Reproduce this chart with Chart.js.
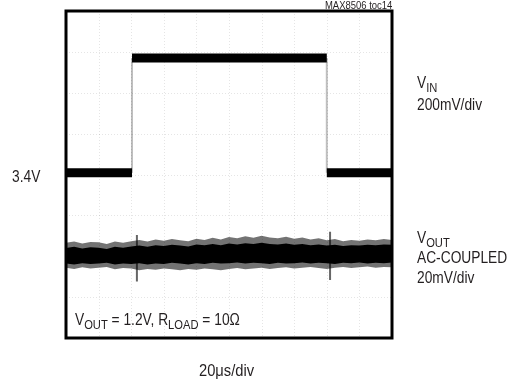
<!DOCTYPE html>
<html><head><meta charset="utf-8">
<script src="https://cdn.jsdelivr.net/npm/chart.js@4"></script>
<style>
html,body{margin:0;padding:0;background:#fff;}
#wrap{position:relative;width:509px;height:385px;overflow:hidden;font-family:"Liberation Sans",Arial,sans-serif;color:#231f20;}
canvas{position:absolute;left:0;top:0;}
.t{position:absolute;font-size:16px;line-height:16px;white-space:nowrap;transform:scaleX(0.86);transform-origin:0 0;}
.t sub{font-size:13px;vertical-align:-4px;line-height:0;}
</style></head>
<body>
<div id="wrap">
<canvas id="c" width="509" height="385"></canvas>
<div class="t" style="right:117px;top:0px;font-size:11px;line-height:10px;transform-origin:100% 0">MAX8506 toc14</div>
<div class="t" style="left:417px;top:74.5px">V<sub>IN</sub></div>
<div class="t" style="left:417px;top:96.5px">200mV/div</div>
<div class="t" style="left:12px;top:168.5px">3.4V</div>
<div class="t" style="left:417px;top:229.5px">V<sub>OUT</sub></div>
<div class="t" style="left:417px;top:249.5px">AC-COUPLED</div>
<div class="t" style="left:417px;top:269.5px">20mV/div</div>
<div class="t" style="left:75px;top:311.5px">V<sub>OUT</sub> = 1.2V, R<sub>LOAD</sub> = 10Ω</div>
<div class="t" style="left:199px;top:362.5px;transform:scaleX(0.92)">20μs/div</div>
</div>
<script>
// Time axis in microseconds (20 µs/div, 10 divisions); vertical axis in screen divisions (8 divisions)
const xTicksUs = [0,20,40,60,80,100,120,140,160,180,200];
const yTicksDiv = [0,1,2,3,4,5,6,7,8];

// VIN step (200 mV/div): low level = 3.4 V
const vinTimes  = [0, 40.5, 40.5, 160, 160, 200];
const vinLevels = [4.04, 4.04, 6.85, 6.85, 4.04, 4.04];

// VOUT AC-coupled noise envelope (20 mV/div)
const noiseTimes = [0,5,10,15,20,25,30,35,40,45,50,55,60,65,70,75,80,85,90,95,100,105,110,115,120,125,130,135,140,145,150,155,160,165,170,175,180,185,190,195,200];
const outerTop = [2.33,2.36,2.31,2.35,2.34,2.30,2.36,2.33,2.37,2.40,2.36,2.41,2.38,2.42,2.39,2.37,2.43,2.40,2.45,2.41,2.47,2.44,2.49,2.45,2.50,2.46,2.44,2.48,2.43,2.46,2.41,2.44,2.39,2.42,2.37,2.40,2.38,2.41,2.39,2.42,2.40];
const innerTop = [2.20,2.23,2.19,2.22,2.21,2.18,2.23,2.21,2.24,2.26,2.23,2.27,2.25,2.28,2.26,2.24,2.29,2.27,2.30,2.27,2.31,2.29,2.32,2.30,2.33,2.30,2.29,2.31,2.28,2.30,2.27,2.29,2.26,2.28,2.25,2.27,2.26,2.28,2.27,2.29,2.28];
const innerBot = [1.82,1.80,1.83,1.81,1.82,1.84,1.80,1.82,1.81,1.83,1.80,1.82,1.81,1.84,1.82,1.80,1.83,1.81,1.84,1.82,1.83,1.85,1.82,1.84,1.83,1.81,1.84,1.82,1.83,1.85,1.82,1.84,1.83,1.81,1.84,1.83,1.85,1.82,1.84,1.83,1.85];
const outerBot = [1.72,1.69,1.73,1.70,1.72,1.74,1.68,1.71,1.70,1.66,1.69,1.67,1.70,1.68,1.66,1.69,1.67,1.70,1.68,1.66,1.69,1.71,1.68,1.70,1.72,1.69,1.71,1.73,1.70,1.72,1.74,1.71,1.69,1.72,1.74,1.71,1.73,1.75,1.72,1.74,1.73];

// Transient spikes on VOUT at the input edges
const spikeTimes = [43.5, 43.5, null, 162, 162];
const spikeLevels = [2.52, 1.38, null, 2.60, 1.42];

const xy = (xs, ys) => xs.map((x, i) => ({x: x === null ? NaN : x, y: ys[i]}));

const gridPlugin = {
  id: 'scopeGrid',
  beforeDatasetsDraw(chart) {
    const {ctx, chartArea: a, scales: {x, y}} = chart;
    ctx.save();
    ctx.strokeStyle = 'rgba(0,0,0,0.10)';
    ctx.lineWidth = 1;
    ctx.setLineDash([1, 2]);
    xTicksUs.forEach(v => { const px = Math.round(x.getPixelForValue(v)) + 0.5; ctx.beginPath(); ctx.moveTo(px, a.top); ctx.lineTo(px, a.bottom); ctx.stroke(); });
    yTicksDiv.forEach(v => { const py = Math.round(y.getPixelForValue(v)) + 0.5; ctx.beginPath(); ctx.moveTo(a.left, py); ctx.lineTo(a.right, py); ctx.stroke(); });
    ctx.restore();
  },
  afterDraw(chart) {
    const {ctx, chartArea: a} = chart;
    ctx.save();
    ctx.strokeStyle = '#000';
    ctx.lineWidth = 3;
    ctx.strokeRect(a.left, a.top, a.right - a.left, a.bottom - a.top);
    ctx.restore();
  }
};

new Chart(document.getElementById('c'), {
  type: 'line',
  data: {
    datasets: [
      {
        label: 'VIN', data: xy(vinTimes, vinLevels),
        borderColor: '#000', borderWidth: 9, pointRadius: 0, fill: false, tension: 0,
        segment: {
          borderWidth: c => c.p0.parsed.x === c.p1.parsed.x ? 2 : 9,
          borderColor: c => c.p0.parsed.x === c.p1.parsed.x ? 'rgba(0,0,0,0.25)' : '#000'
        }
      },
      {
        label: 'spikes', data: xy(spikeTimes, spikeLevels),
        borderColor: 'rgba(0,0,0,0.6)', borderWidth: 2, pointRadius: 0, fill: false, spanGaps: false
      },
      {
        label: 'VOUT core top', data: xy(noiseTimes, innerTop),
        borderColor: '#000', borderWidth: 0, pointRadius: 0, fill: '+1', backgroundColor: '#000'
      },
      {
        label: 'VOUT core bottom', data: xy(noiseTimes, innerBot),
        borderColor: '#000', borderWidth: 0, pointRadius: 0, fill: false
      },
      {
        label: 'VOUT envelope top', data: xy(noiseTimes, outerTop),
        borderColor: 'rgba(0,0,0,0.55)', borderWidth: 0, pointRadius: 0, fill: '+1', backgroundColor: 'rgba(0,0,0,0.55)'
      },
      {
        label: 'VOUT envelope bottom', data: xy(noiseTimes, outerBot),
        borderColor: 'rgba(0,0,0,0.55)', borderWidth: 0, pointRadius: 0, fill: false
      }
    ]
  },
  options: {
    responsive: false, animation: false, devicePixelRatio: 1,
    layout: {padding: {left: 66, top: 11, right: 117, bottom: 47}},
    plugins: {legend: {display: false}, tooltip: {enabled: false}},
    scales: {
      x: {type: 'linear', min: 0, max: 200, display: false},
      y: {type: 'linear', min: 0, max: 8, display: false}
    }
  },
  plugins: [gridPlugin]
});
</script>
</body></html>
